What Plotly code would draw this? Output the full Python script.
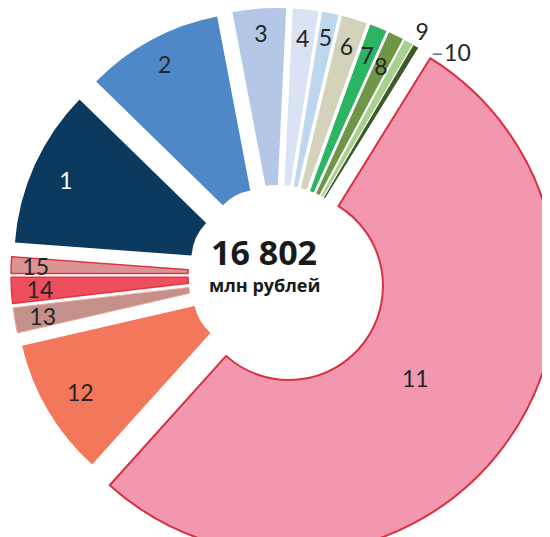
import plotly.graph_objects as go

# ---------------- data ----------------
labels = [str(i) for i in range(1, 16)]
values = [1872, 1629, 630, 303, 196, 303, 205, 182, 103, 65, 8877, 1634, 299, 308, 196]
colors = ['#0b3a5e', '#4f88c6', '#b4c7e7', '#dae3f3', '#bdd7ee', '#d5d2bb', '#2bb462',
          '#6f9546', '#a9d18e', '#3b5a26', '#f397ae', '#f3775b', '#c3908a', '#ee4f5d', '#d99494']
line_colors = ['#ffffff'] * 10 + ['#d9303f', '#ffffff', '#f2a99e', '#e8323f', '#e8323f']
line_widths = [0] * 10 + [2, 0, 1, 1.5, 1.5]
label_colors = ['#ffffff'] + ['#262626'] * 14
total_label = '16 802'
unit_label = 'млн рублей'
big_idx = 10              # slice "11"
nine_idx, ten_idx = 8, 9  # slices "9" and "10" (labelled outside)
extra_out = {0: 8, 1: 15, 2: 15, 6: -5, 7: -10, 11: 5}  # label radial nudges (px)

# ---------------- layout helpers ----------------
W, H = 550, 546
TRANSP = 'rgba(0,0,0,0)'
ROT = -85.8
LFONT = 'Lato, Open Sans, sans-serif'


def dom(cx, cy, half):
    return dict(x=[max(0, (cx - half) / W), min(1, (cx + half) / W)],
                y=[max(0, (H - (cy + half)) / H), min(1, (H - (cy - half)) / H)])


CX, CY = 270, 267
R_A, PULL_PX = 229, 38
R_T = 212

n = len(values)
common = dict(labels=labels, values=values, sort=False, direction='clockwise',
              rotation=ROT, automargin=False, hoverinfo='skip', showlegend=False)

# trace A: every slice except the big one (+ outside label "9")
colA = [TRANSP if i == big_idx else colors[i] for i in range(n)]
lwA = [0 if i == big_idx else line_widths[i] for i in range(n)]
textA = [labels[i] if i == nine_idx else '' for i in range(n)]
posA = ['outside' if i == nine_idx else 'none' for i in range(n)]
traceA = go.Pie(
    hole=52 / R_A, pull=[PULL_PX / R_A] * n,
    domain=dom(CX, CY, R_A + PULL_PX),
    marker=dict(colors=colA, line=dict(color=line_colors, width=lwA)),
    text=textA, textinfo='text', textposition=posA,
    outsidetextfont=dict(family=LFONT, size=23, color='#262626'),
    **common,
)

# trace B: the big slice, drawn larger
R_B = 268
colB = [colors[i] if i == big_idx else TRANSP for i in range(n)]
lwB = [line_widths[i] if i == big_idx else 0 for i in range(n)]
traceB = go.Pie(
    hole=94 / R_B,
    domain=dom(281, 278, R_B),
    marker=dict(colors=colB, line=dict(color=line_colors, width=lwB)),
    textinfo='none',
    **common,
)

# trace T: transparent ring carrying the inside labels of the small slices
skipT = (big_idx, nine_idx, ten_idx)
textT = ['' if i in skipT else labels[i] for i in range(n)]
posT = ['none' if i in skipT else 'inside' for i in range(n)]
pullT_px = [PULL_PX + extra_out.get(i, 0) for i in range(n)]
traceT = go.Pie(
    hole=0.76, pull=[p / R_T for p in pullT_px],
    domain=dom(CX, CY, R_T + max(pullT_px)),
    marker=dict(colors=[TRANSP] * n, line=dict(width=0)),
    text=textT, textinfo='text', textposition=posT, insidetextorientation='horizontal',
    insidetextfont=dict(family=LFONT, size=24, color=label_colors),
    **common,
)

# trace L: transparent ring carrying the label of the big slice
R_L = 195
textL = [labels[i] if i == big_idx else '' for i in range(n)]
posL = ['inside' if i == big_idx else 'none' for i in range(n)]
traceL = go.Pie(
    hole=0.76, domain=dom(CX, CY, R_L),
    marker=dict(colors=[TRANSP] * n, line=dict(width=0)),
    text=textL, textinfo='text', textposition=posL, insidetextorientation='horizontal',
    insidetextfont=dict(family=LFONT, size=24, color='#262626'),
    **common,
)

# trace O: transparent ring carrying the outside label "10"
R_O = 230
textO = ['<span style="color:#707070">\u2013</span>' + labels[i] if i == ten_idx else ''
         for i in range(n)]
posO = ['outside' if i == ten_idx else 'none' for i in range(n)]
traceO = go.Pie(
    domain=dom(297, 251, R_O),
    marker=dict(colors=[TRANSP] * n, line=dict(width=0)),
    text=textO, textinfo='text', textposition=posO,
    outsidetextfont=dict(family=LFONT, size=23, color='#262626'),
    **common,
)

fig = go.Figure([traceA, traceB, traceT, traceL, traceO])
fig.update_layout(
    width=W, height=H, autosize=False,
    margin=dict(l=0, r=0, t=0, b=0, pad=0, autoexpand=False),
    paper_bgcolor='white', plot_bgcolor='white', showlegend=False,
    uniformtext=dict(minsize=23, mode='show'),
    annotations=[
        dict(x=256 / W, y=(H - 244) / H, xref='paper', yref='paper', showarrow=False,
             text='<b>' + total_label + '</b>',
             font=dict(family='Open Sans, sans-serif', size=34, color='#1a1a1a')),
        dict(x=256 / W, y=(H - 277) / H, xref='paper', yref='paper', showarrow=False,
             text='<b>' + unit_label + '</b>',
             font=dict(family='Open Sans, sans-serif', size=18, color='#1a1a1a')),
    ],
)

fig.write_html('out.html')
